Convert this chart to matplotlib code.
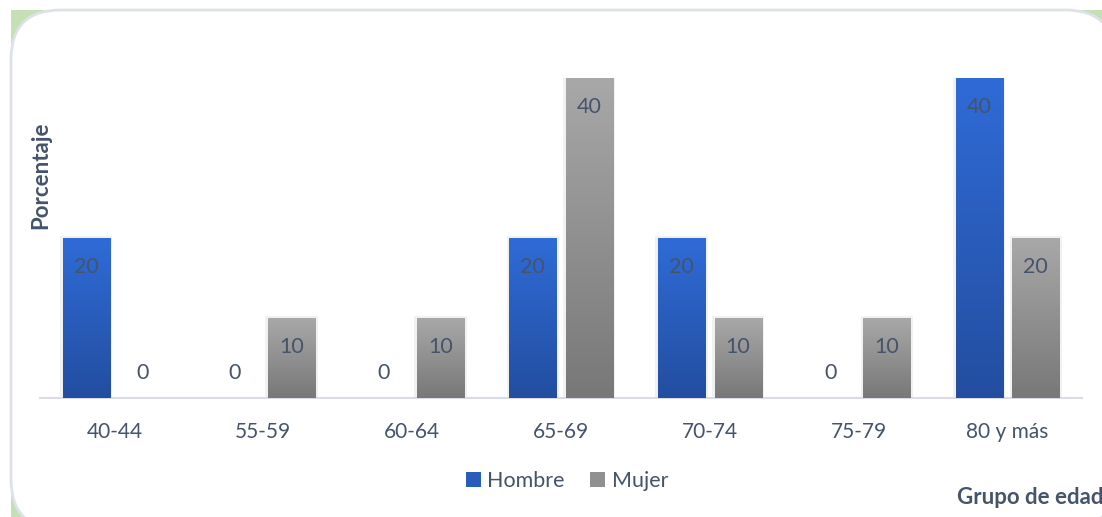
import matplotlib.pyplot as plt
from matplotlib.patches import FancyBboxPatch, Rectangle
import numpy as np

categories = ["40-44", "55-59", "60-64", "65-69", "70-74", "75-79", "80 y más"]
hombre = [20, 0, 0, 20, 20, 0, 40]
mujer = [0, 10, 10, 40, 10, 10, 20]

txt = "#44546a"
plt.rcParams['font.family'] = ['Lato', 'DejaVu Sans']

W, H = 1102, 517
fig = plt.figure(figsize=(W / 100, H / 100), dpi=100)

# background card: green corners behind a rounded white box
fig.patches.append(Rectangle((11 / W, 0), 1 - 11 / W, 1 - 10 / H,
                             transform=fig.transFigure, facecolor="#c5e0b4",
                             edgecolor="none", zorder=0))
fig.patches.append(FancyBboxPatch((11 / W, -12 / H), (1115 - 11) / W, (507 + 12) / H,
                                  boxstyle="round,pad=0,rounding_size=0.045",
                                  mutation_aspect=W / H,
                                  transform=fig.transFigure, facecolor="white",
                                  edgecolor="#dde1e8", linewidth=2, zorder=1))

ax = fig.add_axes([40 / W, (H - 398) / H, 1042 / W, 320 / H])
ax.set_facecolor("none")
ax.set_zorder(2)

x = np.arange(len(categories))
w = 0.316
off = 0.19


def grad_bars(xs, vals, top, bottom):
    bars = ax.bar(xs, vals, w, color="none", zorder=3)
    for b in bars:
        if b.get_height() == 0:
            continue
        bx, by = b.get_x(), b.get_y()
        bw, bh = b.get_width(), b.get_height()
        # soft shadow
        ax.add_patch(Rectangle((bx - 0.018, by), bw + 0.036, bh + 0.3,
                               facecolor="#f1f1f1", edgecolor="none", zorder=2))
        g = np.linspace(0, 1, 100).reshape(-1, 1, 1)
        cols = np.array(top) * (1 - g) + np.array(bottom) * g
        im = ax.imshow(cols, extent=[bx, bx + bw, by, by + bh], aspect="auto",
                       origin="upper", zorder=3)
        im.set_clip_path(b)
    return bars


blue_top = np.array([47, 107, 215]) / 255
blue_bot = np.array([35, 78, 160]) / 255
grey_top = np.array([168, 168, 168]) / 255
grey_bot = np.array([120, 120, 120]) / 255

grad_bars(x - off, hombre, blue_top, blue_bot)
grad_bars(x + off, mujer, grey_top, grey_bot)

for xs, vals in ((x - off, hombre), (x + off, mujer)):
    for xi, v in zip(xs, vals):
        y = v - 3.6 if v > 0 else 3.1
        ax.text(xi, y, str(v), ha="center", va="center", fontsize=15.5,
                color=txt, zorder=5)

ax.set_xlim(-0.5, len(categories) - 0.5)
ax.set_ylim(0, 40)
ax.set_yticks([])
ax.set_xticks(x)
ax.set_xticklabels(categories, fontsize=15, color=txt)
ax.tick_params(axis="x", length=0, pad=17)
for s in ("top", "right", "left"):
    ax.spines[s].set_visible(False)
ax.spines["bottom"].set_color("#d9dde3")
ax.spines["bottom"].set_linewidth(1.5)

fig.text(41 / W, 1 - 175 / H, "Porcentaje", rotation=90, ha="center",
         va="center", fontsize=16, fontweight="bold", color=txt, zorder=5)
fig.text(957 / W, 1 - 497 / H, "Grupo de edad", ha="left", va="center",
         fontsize=16, fontweight="bold", color=txt, zorder=5)

hb = Rectangle((0, 0), 1, 1, facecolor=blue_top * 0.5 + blue_bot * 0.5)
mb = Rectangle((0, 0), 1, 1, facecolor=grey_top * 0.5 + grey_bot * 0.5)
leg = fig.legend([hb, mb], ["Hombre", "Mujer"], loc="center",
                 bbox_to_anchor=(567 / W, 1 - 481 / H), ncol=2, frameon=False,
                 fontsize=15.5, handlelength=0.7, handleheight=0.7,
                 handletextpad=0.3, columnspacing=1.2)
for t in leg.get_texts():
    t.set_color(txt)

fig.savefig("out.png", dpi=100)
